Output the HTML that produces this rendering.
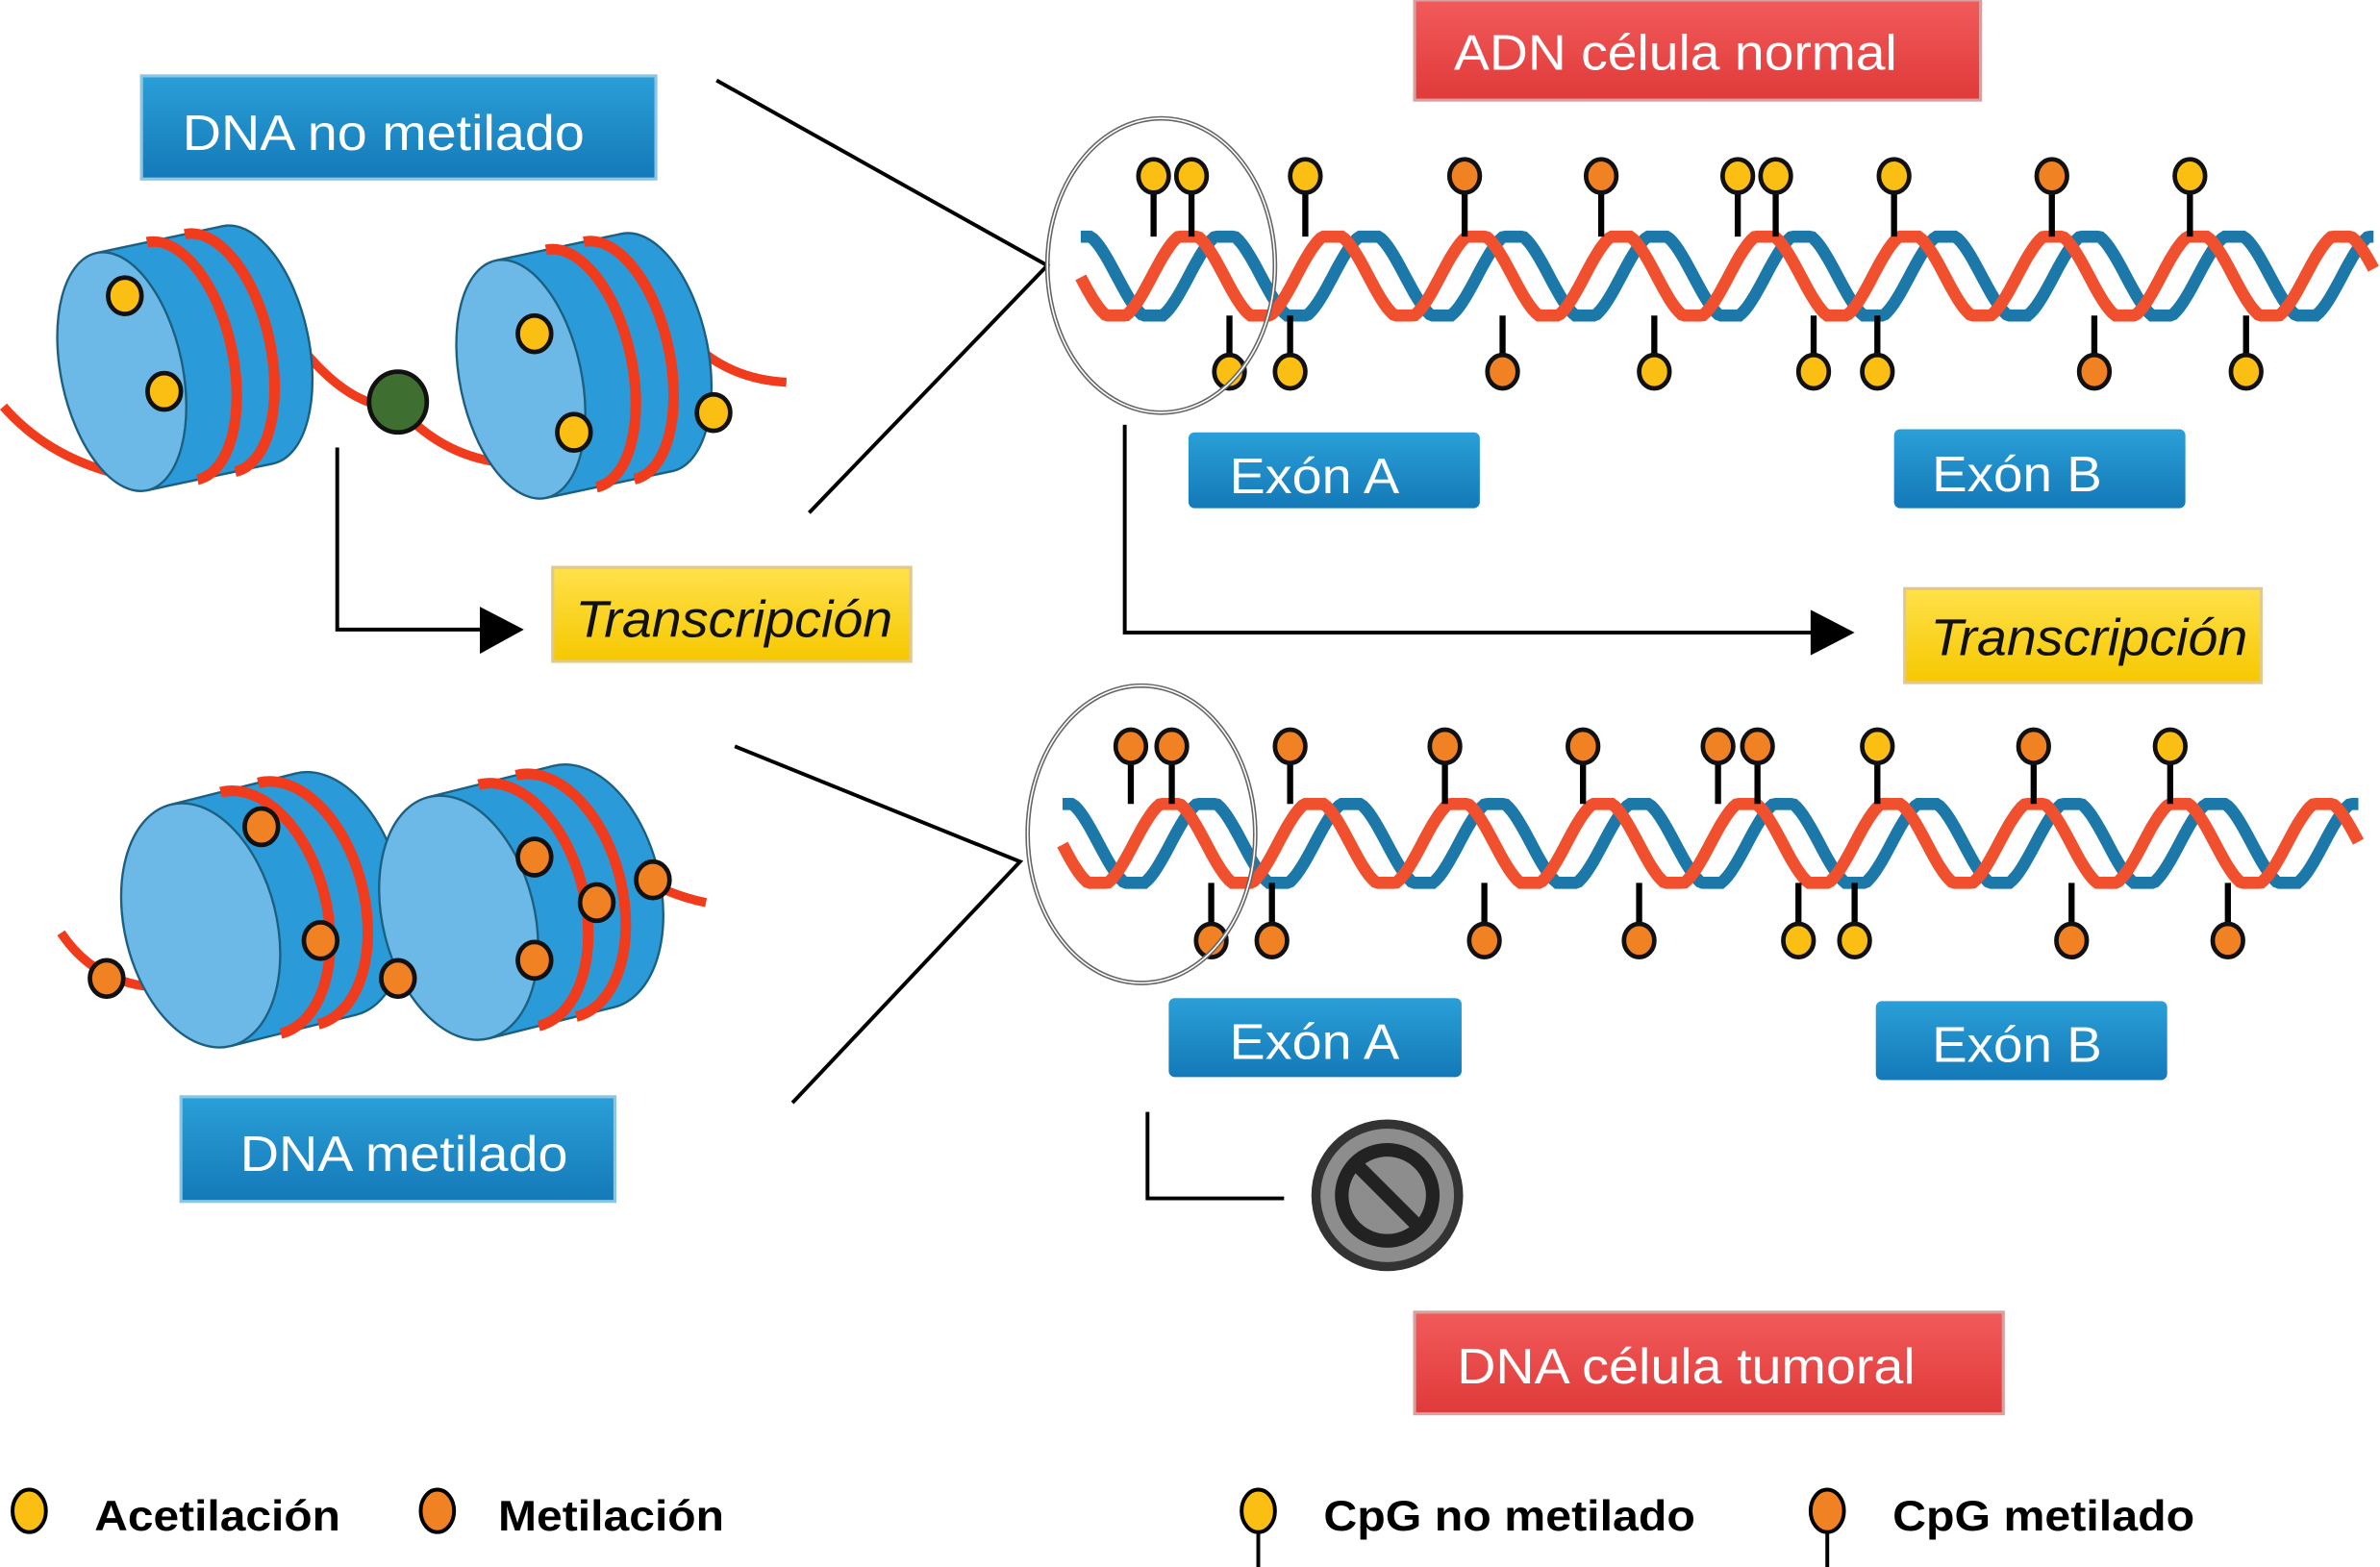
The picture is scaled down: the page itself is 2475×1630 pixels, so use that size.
<!DOCTYPE html>
<html><head><meta charset="utf-8"><style>
html,body{margin:0;padding:0;background:#fff;width:2475px;height:1630px;overflow:hidden}
svg text{font-family:"Liberation Sans",sans-serif}
</style></head><body>
<svg id="s" xmlns="http://www.w3.org/2000/svg" width="2475" height="1630" viewBox="0 0 1568 1033">
<defs>
<linearGradient id="bl" x1="0" y1="0" x2="0" y2="1"><stop offset="0" stop-color="#2a9fd8"/><stop offset="1" stop-color="#1479b8"/></linearGradient>
<linearGradient id="rd" x1="0" y1="0" x2="0" y2="1"><stop offset="0" stop-color="#f25a5a"/><stop offset="1" stop-color="#e03a3a"/></linearGradient>
<linearGradient id="yl" x1="0" y1="0" x2="0" y2="1"><stop offset="0" stop-color="#ffe14a"/><stop offset="1" stop-color="#f6c800"/></linearGradient>
</defs>
<g id="helix"></g>
<g id="nuc"></g>
<g stroke="#000" stroke-width="2.5" fill="none">
<polyline points="472,53 690,175 533,338"/>
<polyline points="484,492 672,568 522,727"/>
<polyline points="222,295 222,415 318,415"/>
<polyline points="741,280 741,417 1195,417"/>
<polyline points="756,733 756,790 846,790"/>
</g>
<polygon points="316,400 345,415 316,431" fill="#000"/>
<polygon points="1193,402 1222,417 1193,432" fill="#000"/>
<ellipse cx="765" cy="175" rx="75" ry="97" fill="none" stroke="#666" stroke-width="3"/>
<ellipse cx="765" cy="175" rx="75" ry="97" fill="none" stroke="#fff" stroke-width="1"/>
<ellipse cx="752" cy="550" rx="75" ry="98" fill="none" stroke="#666" stroke-width="3"/>
<ellipse cx="752" cy="550" rx="75" ry="98" fill="none" stroke="#fff" stroke-width="1"/>
<g font-size="33" fill="#fff">
<rect x="932" y="0" width="373" height="66" fill="url(#rd)" stroke="#d9a0a0" stroke-width="2"/>
<text x="958" y="46" textLength="292" lengthAdjust="spacingAndGlyphs">ADN célula normal</text>
<rect x="93" y="50" width="339" height="68" fill="url(#bl)" stroke="#8cc6e6" stroke-width="2"/>
<text x="120" y="99" textLength="265" lengthAdjust="spacingAndGlyphs">DNA no metilado</text>
<rect x="783" y="285" width="192" height="50" rx="4" fill="url(#bl)"/>
<text x="810" y="325" textLength="112" lengthAdjust="spacingAndGlyphs">Exón A</text>
<rect x="1248" y="283" width="192" height="52" rx="4" fill="url(#bl)"/>
<text x="1273" y="324" textLength="112" lengthAdjust="spacingAndGlyphs">Exón B</text>
<rect x="770" y="658" width="193" height="52" rx="4" fill="url(#bl)"/>
<text x="810" y="698" textLength="112" lengthAdjust="spacingAndGlyphs">Exón A</text>
<rect x="1236" y="660" width="192" height="52" rx="4" fill="url(#bl)"/>
<text x="1273" y="700" textLength="112" lengthAdjust="spacingAndGlyphs">Exón B</text>
<rect x="119" y="723" width="286" height="69" fill="url(#bl)" stroke="#8cc6e6" stroke-width="2"/>
<text x="158" y="772" textLength="216" lengthAdjust="spacingAndGlyphs">DNA metilado</text>
<rect x="932" y="865" width="388" height="67" fill="url(#rd)" stroke="#d9a0a0" stroke-width="2"/>
<text x="960" y="912" textLength="302" lengthAdjust="spacingAndGlyphs">DNA célula tumoral</text>
</g>
<g font-size="34" font-style="italic" fill="#111">
<rect x="364" y="374" width="236" height="62" fill="url(#yl)" stroke="#e0c890" stroke-width="2"/>
<text x="379" y="420" textLength="209" lengthAdjust="spacingAndGlyphs">Transcripción</text>
<rect x="1255" y="388" width="235" height="62" fill="url(#yl)" stroke="#e0c890" stroke-width="2"/>
<text x="1272" y="432" textLength="209" lengthAdjust="spacingAndGlyphs">Transcripción</text>
</g>
<circle cx="914" cy="788" r="50" fill="#333"/>
<circle cx="914" cy="788" r="44" fill="#8d8d8d"/>
<circle cx="914" cy="788" r="30" fill="none" stroke="#222" stroke-width="9"/>
<line x1="893" y1="767" x2="935" y2="809" stroke="#222" stroke-width="9"/>
<g stroke="#000" stroke-width="2.5">
<ellipse cx="19" cy="996" rx="11" ry="14" fill="#fbbf14"/>
<ellipse cx="288" cy="996" rx="11" ry="14" fill="#f08224"/>
<line x1="829" y1="1008" x2="829" y2="1033"/>
<ellipse cx="829" cy="996" rx="11" ry="14" fill="#fbbf14"/>
<line x1="1204" y1="1008" x2="1204" y2="1033"/>
<ellipse cx="1204" cy="996" rx="11" ry="14" fill="#f08224"/>
</g>
<g font-size="28" font-weight="bold" fill="#000">
<text x="62" y="1009" textLength="162" lengthAdjust="spacingAndGlyphs">Acetilación</text>
<text x="328" y="1009" textLength="149" lengthAdjust="spacingAndGlyphs">Metilación</text>
<text x="872" y="1009" textLength="245" lengthAdjust="spacingAndGlyphs">CpG no metilado</text>
<text x="1247" y="1009" textLength="199" lengthAdjust="spacingAndGlyphs">CpG metilado</text>
</g>
</svg>
<script>
var NS="http://www.w3.org/2000/svg";
function el(p,t,a){var e=document.createElementNS(NS,t);for(var k in a)e.setAttribute(k,a[k]);p.appendChild(e);return e;}
var H=document.getElementById('helix');
function helix(x0,x1,c,A,P){
 var strands=[[0,'#1b78a8'],[1.6,'#f0502e']];
 strands.forEach(function(s){var d='';for(var x=x0;x<=x1;x+=2){var v=Math.cos(2*Math.PI*(x-x0)/P+s[0]);var y=c-A*Math.max(-1,Math.min(1,1.1*v));d+=(x==x0?'M':'L')+x+','+y.toFixed(1);}
 el(H,'path',{d:d,fill:'none',stroke:s[1],'stroke-width':8});});
}
helix(712,1565,182,26,95);
helix(700,1555,556,26,95);
var Y='#fbbf14',O='#f08224';
function pops(list,y0,yc){list.forEach(function(p){el(H,'line',{x1:p[0],y1:y0,x2:p[0],y2:yc,stroke:'#000','stroke-width':4});el(H,'ellipse',{cx:p[0],cy:yc,rx:10,ry:11,fill:p[1],stroke:'#111','stroke-width':3});});}
pops([[760,Y],[785,Y],[860,Y],[965,O],[1055,O],[1145,Y],[1170,Y],[1248,Y],[1352,O],[1443,Y]],156,116);
pops([[810,Y],[850,Y],[990,O],[1090,Y],[1195,Y],[1237,Y],[1380,O],[1480,Y]],208,245);
pops([[745,O],[772,O],[850,O],[952,O],[1043,O],[1132,O],[1158,O],[1237,Y],[1340,O],[1430,Y]],530,492);
pops([[798,O],[838,O],[978,O],[1080,O],[1185,Y],[1222,Y],[1365,O],[1468,O]],582,620);
var N=document.getElementById('nuc');
function nuc(fx,fy,rx,ry,len,rot){
 var g=el(N,'g',{transform:'rotate('+rot+' '+fx+' '+fy+')'});
 el(g,'ellipse',{cx:fx+len,cy:fy,rx:rx,ry:ry,fill:'#2a9ad8',stroke:'#1d5f80','stroke-width':1.5});
 el(g,'rect',{x:fx,y:fy-ry,width:len,height:2*ry,fill:'#2a9ad8'});
 el(g,'line',{x1:fx,y1:fy-ry,x2:fx+len,y2:fy-ry,stroke:'#1d5f80','stroke-width':1.5});
 el(g,'line',{x1:fx,y1:fy+ry,x2:fx+len,y2:fy+ry,stroke:'#1d5f80','stroke-width':1.5});
 [0.4,0.7].forEach(function(f){var x=fx+len*f;el(g,'path',{d:'M'+x+','+(fy-ry)+' A'+rx+','+ry+' 0 0 1 '+x+','+(fy+ry),fill:'none',stroke:'#f03c1c','stroke-width':7});});
 el(g,'ellipse',{cx:fx,cy:fy,rx:rx,ry:ry,fill:'#6cb8e6',stroke:'#1d5f80','stroke-width':1.5});
}
function dna(d){el(N,'path',{d:d,fill:'none',stroke:'#f03c1c','stroke-width':6});}
dna('M2,268 Q30,300 75,312');dna('M195,225 Q230,270 262,268 Q290,300 330,305');dna('M455,225 Q480,250 518,252');
nuc(80,245,40,80,85,-12);
nuc(343,250,40,80,85,-12);
dna('M40,615 Q60,645 95,650');dna('M240,640 L262,648');dna('M415,575 Q440,590 465,595');
nuc(132,610,50,82,85,-14);
nuc(302,605,50,82,85,-14);
function dot(x,y,c){el(N,'ellipse',{cx:x,cy:y,rx:11,ry:12,fill:c,stroke:'#111','stroke-width':3});}
dot(82,195,Y);dot(108,258,Y);dot(352,220,Y);dot(378,285,Y);dot(470,272,Y);
el(N,'ellipse',{cx:262,cy:265,rx:19,ry:20,fill:'#3f6f30',stroke:'#111','stroke-width':3});
dot(70,645,O);dot(172,545,O);dot(211,620,O);dot(262,645,O);dot(352,565,O);dot(393,595,O);dot(352,633,O);dot(430,580,O);
</script>
</body></html>
